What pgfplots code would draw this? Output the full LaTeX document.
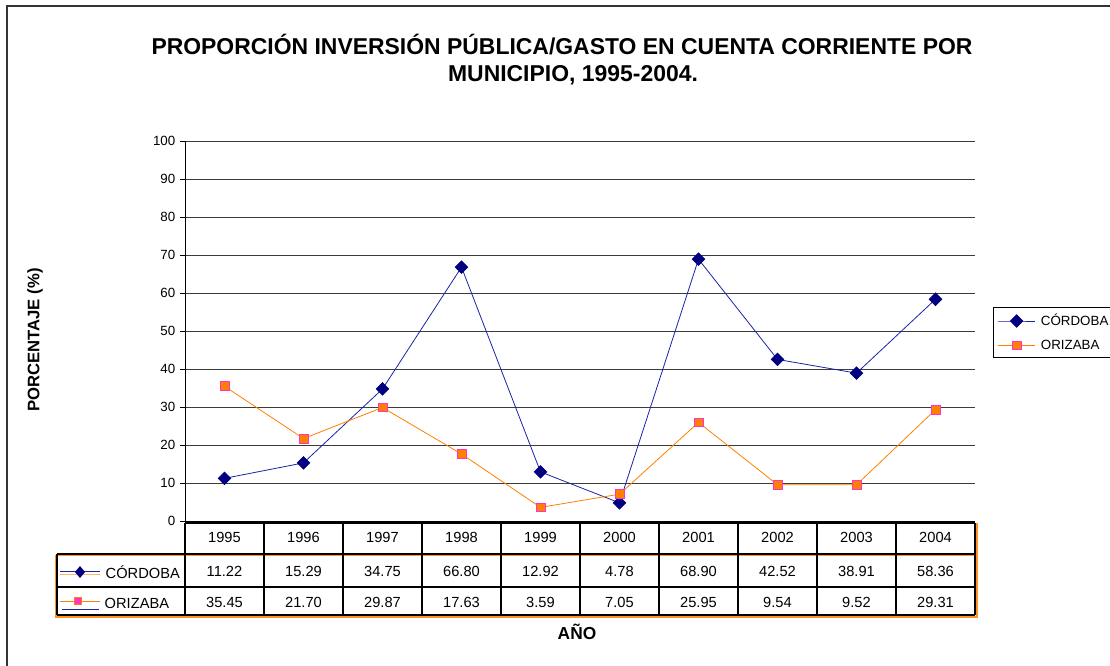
\documentclass[border=0pt]{standalone}
\usepackage{fontspec}
\setmainfont{Liberation Sans}
\usepackage{pgfplots}
\usepackage{pgfplotstable}
\pgfplotsset{compat=1.18}
\definecolor{navyM}{RGB}{0,0,128}
\definecolor{cordL}{RGB}{25,35,165}
\definecolor{oriL}{RGB}{255,128,0}
\definecolor{magM}{RGB}{255,51,204}
\definecolor{gridC}{RGB}{60,60,60}

\pgfplotstableread{
idx year cor ori
0 1995 11.22 35.45
1 1996 15.29 21.70
2 1997 34.75 29.87
3 1998 66.80 17.63
4 1999 12.92 3.59
5 2000 4.78 7.05
6 2001 68.90 25.95
7 2002 42.52 9.54
8 2003 38.91 9.52
9 2004 58.36 29.31
}\datatable

\begin{document}
\begin{tikzpicture}
\useasboundingbox (0,0) rectangle (832.5pt,498.75pt);
\begin{axis}[
 at={(138.75pt,108pt)}, anchor=south west,
 scale only axis, width=592.5pt, height=285pt,
 xmin=-0.5, xmax=9.5, ymin=0, ymax=100,
 xtick=\empty, ytick={0,10,...,100},
 axis x line*=bottom, axis y line*=left,
 axis line style={black, line width=0.75pt},
 ymajorgrids, grid style={gridC, line width=0.6pt},
 tick align=outside, major tick length=3.75pt,
 tick style={black, line width=0.6pt},
 yticklabel style={font=\fontsize{10}{12}\selectfont},
 /pgf/number format/assume math mode=true,
 clip=false,
 legend style={at={(1.0228,0.563)}, anchor=north west, draw=black, line width=0.75pt,
   font=\fontsize{10}{12}\selectfont, row sep=5pt, inner sep=3pt,
   nodes={inner xsep=4pt}},
 legend cell align=left,
 legend image code/.code={\draw[mark repeat=2,mark phase=2,#1] plot coordinates {(0pt,0pt) (14pt,0pt) (28pt,0pt)};},
]
\addplot[cordL, line width=0.6pt, mark=square*, mark size=3.3pt,
  mark options={navyM, fill=navyM, rotate=45}] table[x=idx,y=cor]{\datatable};
\addlegendentry{CÓRDOBA}
\addplot[oriL, line width=0.6pt, mark=square*, mark size=3.3pt,
  mark options={draw=magM, fill=oriL, line width=0.6pt}] table[x=idx,y=ori]{\datatable};
\addlegendentry{ORIZABA}
\end{axis}

\begin{scope}[x=0.75pt,y=-0.75pt,shift={(0pt,498.75pt)}]
 % outer frame
 \draw[line width=1.5pt, black!80] (6.5,700) -- (6.5,6.5) -- (1120,6.5);
 % title
 \node[font=\bfseries\fontsize{17.2}{20}\selectfont] at (562,45) {PROPORCIÓN INVERSIÓN PÚBLICA/GASTO EN CUENTA CORRIENTE POR};
 \node[font=\bfseries\fontsize{17.2}{20}\selectfont] at (573,75) {MUNICIPIO, 1995-2004.};
 % axis labels
 \node[rotate=90, font=\bfseries\fontsize{12.5}{14}\selectfont] at (35,340) {PORCENTAJE (\%)};
 \node[font=\bfseries\fontsize{13}{15}\selectfont] at (577,632) {AÑO};
 % data table grid
 \draw[oriL!85, line width=0.8pt] (56,555.5) rectangle (977,617);
 \draw[oriL!85, line width=0.8pt] (977,523) -- (977,555.5);
 \draw[black, line width=0.9pt] (185,523) -- (975,523);
 \foreach \yy in {554,587,615} { \draw[black, line width=0.9pt] (57,\yy) -- (975,\yy); }
 \draw[black, line width=0.9pt] (57,554) -- (57,615);
 \foreach \k in {0,...,10} { \draw[black, line width=0.9pt] ({185+79*\k},523) -- ({185+79*\k},615); }
 % row legend keys
 \draw[cordL, line width=0.6pt] (60,571) -- (100,571);
 \draw[oriL!60, line width=0.6pt] (60,574) -- (100,574);
 \fill[navyM] (80,566) -- (85,572) -- (80,578) -- (75,572) -- cycle;
 \draw[oriL, line width=0.6pt] (60,601) -- (100,601);
 \draw[cordL, line width=0.6pt] (62,609) -- (99,609);
 \filldraw[fill=magM, draw=oriL, line width=0.6pt] (74,597.5) rectangle (81,604.5);
 \node[anchor=west, font=\fontsize{11}{13}\selectfont] at (101,572) {CÓRDOBA};
 \node[anchor=west, font=\fontsize{11}{13}\selectfont] at (100,603) {ORIZABA};
 % table values
 \foreach \i in {0,...,9} {
   \pgfmathsetmacro{\cx}{224.5+79*\i}
   \pgfplotstablegetelem{\i}{year}\of\datatable \let\yr\pgfplotsretval
   \node[font=\fontsize{11}{13}\selectfont] at (\cx,537) {\yr};
   \pgfplotstablegetelem{\i}{cor}\of\datatable \let\vc\pgfplotsretval
   \node[font=\fontsize{11}{13}\selectfont] at (\cx,571) {\vc};
   \pgfplotstablegetelem{\i}{ori}\of\datatable \let\vo\pgfplotsretval
   \node[font=\fontsize{11}{13}\selectfont] at (\cx,602) {\vo};
 }
\end{scope}
\end{tikzpicture}
\end{document}
